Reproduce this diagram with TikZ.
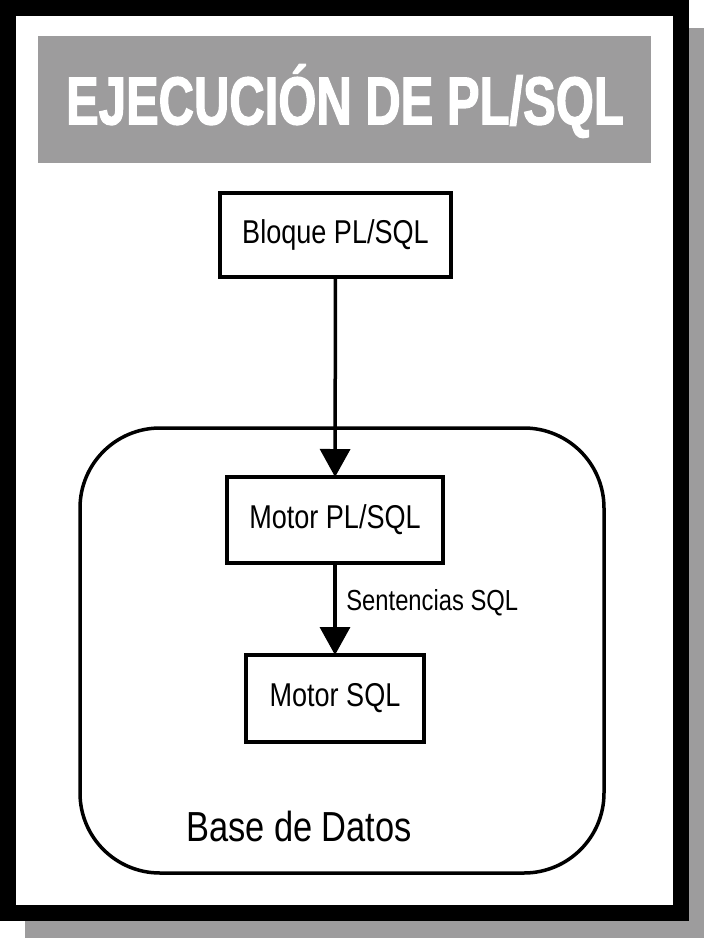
\documentclass[tikz,border=0pt]{standalone}
\usepackage{fontspec}
\setmainfont{Liberation Sans}[FakeStretch=0.82]
\newfontfamily\titlefont{Liberation Sans}[FakeStretch=0.72,FakeBold=1.6]
\usetikzlibrary{positioning}
\usetikzlibrary{arrows.meta}
\definecolor{framegray}{HTML}{9D9C9D}
\begin{document}
\begin{tikzpicture}[x=1pt,y=-1pt,every node/.style={outer sep=0pt},
		block/.style={draw,line width=3.5pt,inner sep=0pt,font=\fontsize{33}{38}\selectfont},
		flow/.style={line width=3.5pt,arrows={-Triangle[length=28pt,width=30pt]}},
		]
		\useasboundingbox (0,0) rectangle (704,938);
		% marco con sombra
		\fill[framegray] (25,28) rectangle (704,938);
		\fill[black] (0,0) rectangle (689,921);
		\fill[white] (16,16) rectangle (673,905);
		% titulo
		\fill[framegray] (38,36) rectangle (651,163);
		\node[text=white,font=\titlefont\bfseries\fontsize{68}{70}\selectfont] (title) at (345,101) {EJECUCIÓN DE PL/SQL};

		\node[draw,line width=3.5pt,rounded corners=80pt,minimum width=524pt,minimum height=445pt] (base) at (342,650.5) {};
		\node[font=\fontsize{42}{48}\selectfont] (baselabel) at (299,826) {Base de Datos};

		\node[block,minimum width=231pt,minimum height=84pt] (bloque) at (335.5,235) {Bloque PL/SQL};
		\node[block,minimum width=216pt,minimum height=86pt] (motorpl) at (335,520) {Motor PL/SQL};
		\node[block,minimum width=178pt,minimum height=87pt] (motorsql) at (335,698.5) {Motor SQL};

		\draw[flow] (bloque) -- (motorpl);
		\draw[flow] (motorpl) -- (motorsql) node[midway,right=8pt,yshift=6pt,font=\fontsize{29}{34}\selectfont] (sentencias) {Sentencias SQL};
\end{tikzpicture}
\end{document}
